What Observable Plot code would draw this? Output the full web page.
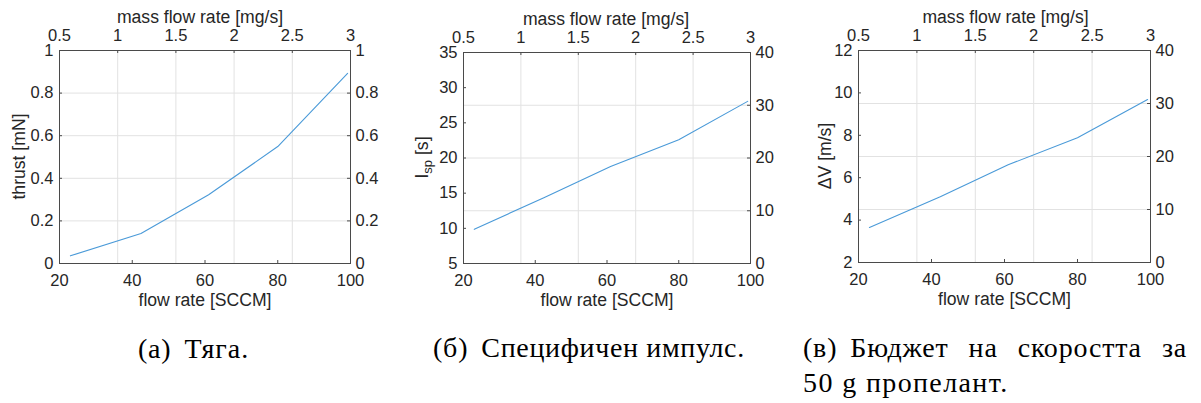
<!DOCTYPE html>
<html><head><meta charset="utf-8">
<script src="https://cdn.jsdelivr.net/npm/d3@7"></script>
<script src="https://cdn.jsdelivr.net/npm/@observablehq/plot@0.6"></script>
<style>
body{margin:0;background:#fff;}
#wrap{position:relative;width:1201px;height:403px;overflow:hidden;background:#fff;}
.panel{position:absolute;top:0;}
</style></head><body><div id="wrap"></div>
<script>
// ---- data ----
const flowSCCM = [23, 42.4, 61, 80, 99.2];
const thrust = [0.036, 0.141, 0.323, 0.549, 0.893];
const isp = [9.86, 14.36, 18.8, 22.6, 28.05];
const deltaV = [3.65, 5.10, 6.61, 7.88, 9.69];
const bottomTicks = [20, 40, 60, 80, 100];
const topTicks = [0.5, 1, 1.5, 2, 2.5, 3];
const thrustTicks = [0, 0.2, 0.4, 0.6, 0.8, 1];
const thrustRightTicks = [0, 0.2, 0.4, 0.6, 0.8, 1];
const ispTicks = [5, 10, 15, 20, 25, 30, 35];
const ispRightTicks = [0, 10, 20, 30, 40];
const dvTicks = [2, 4, 6, 8, 10, 12];
const dvRightTicks = [0, 10, 20, 30, 40];
const bottomLabel = "flow rate [SCCM]";
const topLabel = "mass flow rate [mg/s]";
const captionLabels = ["(а)", "(б)", "(в)"];
const captionA = "Тяга.";
const captionB = "Специфичен импулс.";
const captionC1 = "Бюджет на скоростта за";
const captionC2 = "50 g пропелант.";

const GRID = "#e2e2e2", AXIS = "#4a4a4a", INK = "#262626", LINE = "#4a9ad8";
const FONT = "'Liberation Sans', Arial, Helvetica, sans-serif";
const TICKFS = 16.5, LABFS = 17.6;
const fmt = v => String(+(+v).toFixed(4));
const topMap = t => 20 + (t - 0.5) * 32;           // mg/s -> SCCM position
const topInv = x => (x - 20) / 32 + 0.5;

function panel(o) {
  const [y0, y1] = o.yDomain;
  const [r0, r1] = [o.rTicks[0], o.rTicks[o.rTicks.length - 1]];
  const rMap = r => y0 + (r - r0) * (y1 - y0) / (r1 - r0);
  const rInv = y => r0 + (y - y0) * (r1 - r0) / (y1 - y0);
  const rightPos = o.rTicks.map(rMap);
  const topPos = topTicks.map(topMap);
  const data = flowSCCM.map((x, i) => ({x, y: o.values[i]}));
  const pw = o.width - o.mL - o.mR, ph = o.height - o.mT - o.mB;
  const plot = Plot.plot({
    width: o.width, height: o.height,
    marginLeft: o.mL, marginRight: o.mR, marginTop: o.mT, marginBottom: o.mB,
    style: {fontFamily: FONT, fontSize: TICKFS + "px", color: INK, background: "transparent", overflow: "visible"},
    x: {domain: [20, 100]},
    y: {domain: o.yDomain},
    marks: [
      Plot.ruleX(topPos.slice(1, -1), {stroke: GRID, strokeWidth: 1}),
      Plot.ruleY(rightPos.slice(1, -1), {stroke: GRID, strokeWidth: 1}),
      Plot.line(data, {x: "x", y: "y", stroke: LINE, strokeWidth: 1.1}),
      Plot.tickX(bottomTicks, {x: d => d, stroke: AXIS, insetTop: ph - 3}),
      Plot.tickX(topPos, {x: d => d, stroke: AXIS, insetBottom: ph - 3}),
      Plot.tickY(o.yTicks, {y: d => d, stroke: AXIS, insetRight: pw - 3}),
      Plot.tickY(rightPos, {y: d => d, stroke: AXIS, insetLeft: pw - 3}),
      Plot.frame({stroke: AXIS, strokeWidth: 1}),
      Plot.axisX({anchor: "bottom", ticks: bottomTicks, tickSize: 0, tickPadding: 11, label: null, tickFormat: fmt, fontSize: TICKFS}),
      Plot.axisX({anchor: "top", ticks: topPos, tickSize: 0, tickPadding: 10, label: null, tickFormat: d => fmt(topInv(d)), fontSize: TICKFS}),
      Plot.axisY({anchor: "left", ticks: o.yTicks, tickSize: 0, tickPadding: 6, label: null, tickFormat: fmt, fontSize: TICKFS}),
      Plot.axisY({anchor: "right", ticks: rightPos, tickSize: 0, tickPadding: 5, label: null, tickFormat: d => fmt(rInv(d)), fontSize: TICKFS}),
      Plot.text([bottomLabel], {frameAnchor: "bottom", dy: 42, fontSize: LABFS, fill: INK}),
      Plot.text([topLabel], {frameAnchor: "top", dy: -40, dx: o.topDx, fontSize: LABFS, fill: INK})
    ]
  });
  plot.classList.add("panel");
  plot.style.left = o.left + "px";
  // rotated y label (with optional subscript)
  const svg = d3.select(plot);
  const t = svg.append("text")
    .attr("transform", `translate(${o.yLabelX},${o.mT + ph / 2}) rotate(-90)`)
    .attr("text-anchor", "middle").attr("dy", "0.32em")
    .attr("font-family", FONT).attr("font-size", LABFS).attr("fill", INK);
  o.ylabel.forEach(part => {
    const s = t.append("tspan").text(part.text);
    if (part.sub) s.attr("baseline-shift", "-30%").attr("font-size", 13);
  });
  document.getElementById("wrap").appendChild(plot);
}

panel({left: 0, width: 400, height: 320, mL: 59, mR: 50, mT: 50, mB: 57,
  yDomain: [0, 1], yTicks: thrustTicks, rTicks: thrustRightTicks, values: thrust,
  ylabel: [{text: "thrust [mN]"}], yLabelX: 19, topDx: -5});
panel({left: 400, width: 400, height: 320, mL: 63, mR: 50, mT: 52, mB: 57,
  yDomain: [5, 35], yTicks: ispTicks, rTicks: ispRightTicks, values: isp,
  ylabel: [{text: "I"}, {text: "sp", sub: true}, {text: " [s]"}], yLabelX: 22, topDx: -1});
panel({left: 800, width: 401, height: 320, mL: 58, mR: 51, mT: 50, mB: 58,
  yDomain: [2, 12], yTicks: dvTicks, rTicks: dvRightTicks, values: deltaV,
  ylabel: [{text: "ΔV [m/s]"}], yLabelX: 25, topDx: 1});

// captions
const cap = d3.select("#wrap").append("svg")
  .attr("width", 1201).attr("height", 403)
  .style("position", "absolute").style("left", "0px").style("top", "0px");
const SERIF = "'Liberation Serif', 'DejaVu Serif', serif";
function txt(str, x, y) {
  return cap.append("text").attr("x", x).attr("y", y)
    .attr("font-family", SERIF).attr("font-size", 28).attr("fill", "#000")
    .attr("letter-spacing", 0.8).text(str);
}
function caption(label, body, x, y, endX, justify) {
  const l = txt(label, x, y);
  const bx = x + l.node().getComputedTextLength() + 13;
  const b = txt(body, bx, y);
  const w = b.node().getComputedTextLength();
  const spaces = (body.match(/ /g) || []).length;
  if (justify && spaces) b.attr("word-spacing", (endX - bx - w) / spaces);
  else b.attr("textLength", endX - bx).attr("lengthAdjust", "spacing");
}
caption(captionLabels[0], captionA, 138, 358, 249, false);
caption(captionLabels[1], captionB, 433, 357, 745, false);
caption(captionLabels[2], captionC1, 803, 357, 1187, true);
const c2 = txt(captionC2, 803, 392);
c2.attr("textLength", 205).attr("lengthAdjust", "spacing");
</script>
</body></html>
